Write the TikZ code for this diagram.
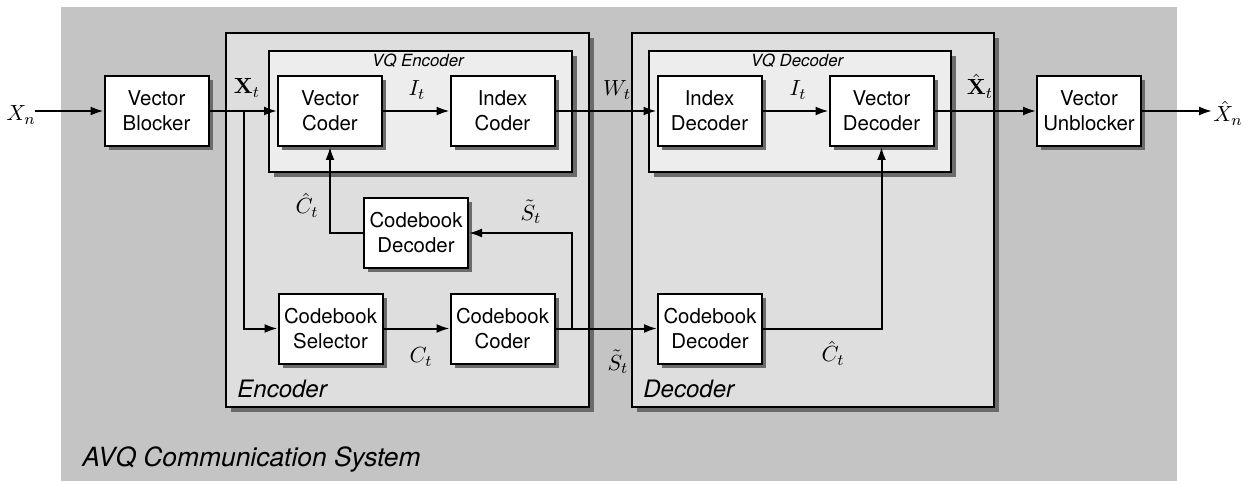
\documentclass[tikz,border=0pt]{standalone}
\usepackage[no-math]{fontspec}
\setmainfont{TeX Gyre Heros}
\usetikzlibrary{arrows.meta,shadows}
\definecolor{bgout}{gray}{0.77}
\definecolor{encfill}{gray}{0.87}
\definecolor{vqfill}{gray}{0.93}
\definecolor{shad}{gray}{0.42}
\begin{document}
\begin{tikzpicture}[x=0.5pt,y=-0.5pt,
  shd/.style={drop shadow={shadow xshift=2pt,shadow yshift=-2pt,fill=shad,opacity=1}},
  blk/.style={draw,line width=1pt,fill=white,shd,minimum width=52pt,minimum height=35pt,inner sep=0pt,align=center,font=\fontsize{10.2}{12.5}\selectfont},
  container/.style={draw,line width=0.7pt,inner sep=0pt,drop shadow={shadow xshift=2.5pt,shadow yshift=-2.5pt,fill=shad,opacity=1}},
  conn/.style={line width=1pt,-{Latex[length=6.5pt,width=4.5pt]}},
  lbl/.style={inner sep=0pt,font=\fontsize{11}{13}\selectfont},
  ttl/.style={inner sep=0pt,anchor=base west,font=\itshape\fontsize{12}{14}\selectfont}]
\useasboundingbox (0,0) rectangle (1243,481);
\fill[bgout] (61,7) rectangle (1177,481);
% containers
\node[container,fill=encfill,minimum width=181.5pt,minimum height=187pt] (enc) at (407.5,220) {};
\node[container,fill=encfill,minimum width=181pt,minimum height=187pt] (dec) at (813,220) {};
\node[container,fill=vqfill,minimum width=151.5pt,minimum height=60.5pt] (vqe) at (420.5,111.5) {};
\node[container,fill=vqfill,minimum width=151pt,minimum height=60.5pt] (vqd) at (800,111.5) {};
\node[inner sep=0pt,anchor=base,font=\itshape\fontsize{8.4}{10}\selectfont] (vqet) at (418,67) {VQ Encoder};
\node[inner sep=0pt,anchor=base,font=\itshape\fontsize{8.4}{10}\selectfont] (vqdt) at (797,67) {VQ Decoder};
\node[ttl] (enct) at (237,397) {Encoder};
\node[ttl] (dect) at (643,397) {Decoder};
\node[ttl,font=\itshape\fontsize{13.2}{15}\selectfont] (sys) at (82,466) {AVQ Communication System};
% blocks
\node[blk] (vb) at (156.5,111) {Vector\\Blocker};
\node[blk] (vc) at (330,111) {Vector\\Coder};
\node[blk] (ic) at (502.5,111) {Index\\Coder};
\node[blk] (id) at (709.5,111) {Index\\Decoder};
\node[blk] (vd) at (881.5,111) {Vector\\Decoder};
\node[blk] (vu) at (1089,111) {Vector\\Unblocker};
\node[blk] (cbd) at (416,233) {Codebook\\Decoder};
\node[blk] (cbs) at (330.5,328.5) {Codebook\\Selector};
\node[blk] (cbc) at (502.5,328.5) {Codebook\\Coder};
\node[blk] (cbd2) at (710,328.5) {Codebook\\Decoder};
% coordinates
\coordinate (xin) at (35,111);
\coordinate (xout) at (1212,111);
\coordinate (j1) at (244,111);
\coordinate (j2) at (572,328.5);
% connectors
\draw[conn] (xin) -- (vb.west);
\draw[conn] (vb.east) -- (vc.west);
\draw[conn] (j1) |- (cbs.west);
\draw[conn] (vc.east) -- (ic.west);
\draw[conn] (ic.east) -- (id.west);
\draw[conn] (id.east) -- (vd.west);
\draw[conn] (vd.east) -- (vu.west);
\draw[conn] (vu.east) -- (xout);
\draw[conn] (cbs.east) -- (cbc.west);
\draw[conn] (cbc.east) -- (cbd2.west);
\draw[conn] (j2) |- (cbd.east);
\draw[conn] (cbd.west) -| (vc.south);
\draw[conn] (cbd2.east) -| (vd.south);
% labels
\node[lbl] (lxn) at (21,115) {$X_n$};
\node[lbl] (lxt) at (247,88) {$\mathbf{X}_t$};
\node[lbl] (lit1) at (417,90) {$I_t$};
\node[lbl] (lwt) at (617,90) {$W_t$};
\node[lbl] (lit2) at (798,90) {$I_t$};
\node[lbl] (lxht) at (980,86) {$\hat{\mathbf{X}}_t$};
\node[lbl] (lxhn) at (1228,113) {$\hat{X}_n$};
\node[lbl] (lch1) at (307,205) {$\hat{C}_t$};
\node[lbl] (lst1) at (531,212) {$\tilde{S}_t$};
\node[lbl] (lct) at (421,357) {$C_t$};
\node[lbl] (lst2) at (618,362) {$\tilde{S}_t$};
\node[lbl] (lch2) at (833,353) {$\hat{C}_t$};
\end{tikzpicture}
\end{document}
